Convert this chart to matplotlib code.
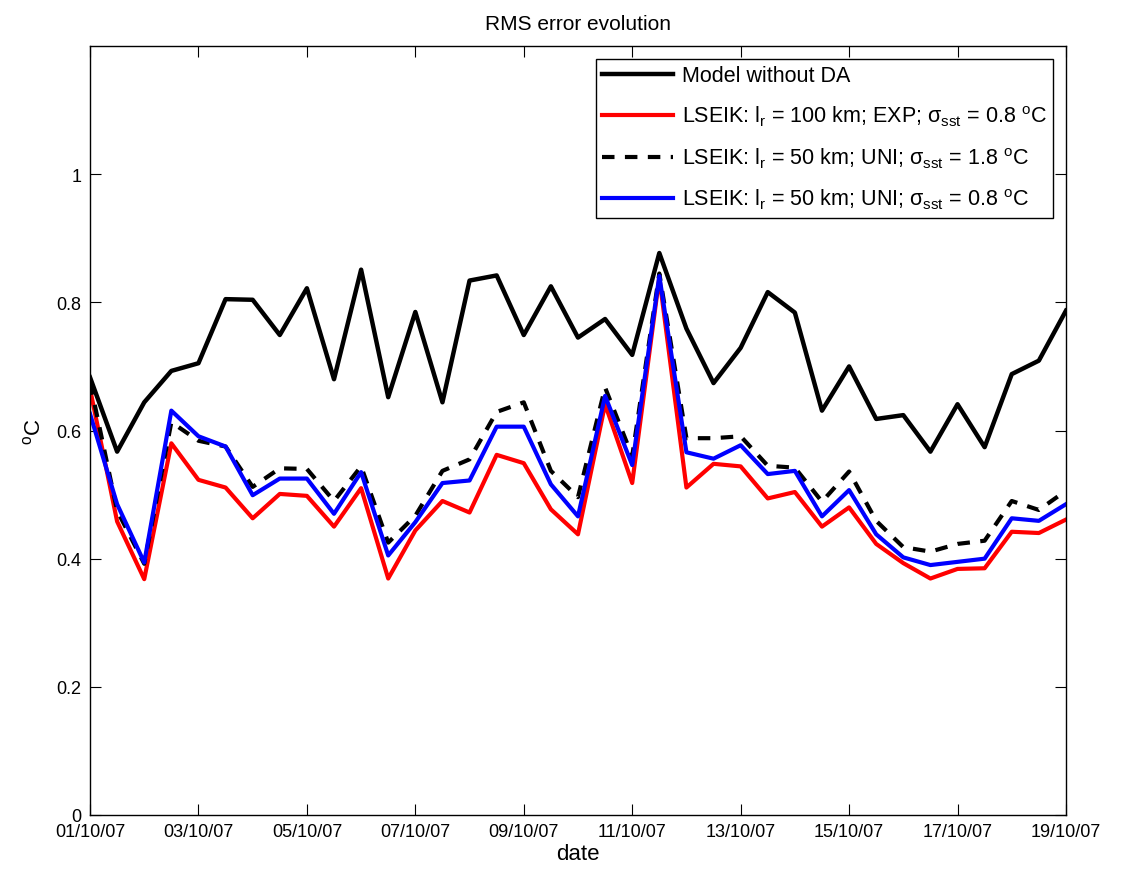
import matplotlib
matplotlib.use('Agg')
import matplotlib.pyplot as plt
import matplotlib.dates as mdates
import numpy as np

plt.rcParams['font.family'] = ['Liberation Sans', 'DejaVu Sans']
plt.rcParams['mathtext.default'] = 'regular'

# one value every 12 h, 01/10/07 00h .. 19/10/07 00h
dates = np.arange(np.datetime64('2007-10-01T00'), np.datetime64('2007-10-19T01'),
                  np.timedelta64(12, 'h')).astype('datetime64[s]').astype(object)

rms_free = [0.683, 0.567, 0.644, 0.693, 0.705, 0.805, 0.804, 0.749, 0.822, 0.680,
            0.851, 0.652, 0.785, 0.644, 0.834, 0.842, 0.749, 0.825, 0.745, 0.774,
            0.718, 0.877, 0.759, 0.674, 0.729, 0.816, 0.784, 0.631, 0.700, 0.618,
            0.624, 0.567, 0.641, 0.574, 0.688, 0.709, 0.787]
rms_exp100 = [0.665, 0.458, 0.368, 0.580, 0.523, 0.511, 0.463, 0.501, 0.498, 0.450,
              0.510, 0.369, 0.444, 0.490, 0.472, 0.562, 0.549, 0.477, 0.438, 0.641,
              0.518, 0.839, 0.511, 0.548, 0.544, 0.494, 0.504, 0.450, 0.480, 0.423,
              0.393, 0.369, 0.384, 0.385, 0.442, 0.440, 0.461]
rms_uni50_18 = [0.675, 0.475, 0.392, 0.613, 0.584, 0.575, 0.512, 0.541, 0.540, 0.490,
                0.544, 0.425, 0.467, 0.537, 0.555, 0.629, 0.644, 0.537, 0.496, 0.667,
                0.560, 0.845, 0.588, 0.588, 0.591, 0.545, 0.542, 0.489, 0.536, 0.459,
                0.418, 0.411, 0.423, 0.428, 0.490, 0.476, 0.506]
rms_uni50_08 = [0.626, 0.485, 0.394, 0.631, 0.591, 0.575, 0.499, 0.525, 0.525, 0.470,
                0.535, 0.405, 0.457, 0.518, 0.522, 0.606, 0.606, 0.516, 0.466, 0.654,
                0.546, 0.841, 0.566, 0.556, 0.577, 0.532, 0.537, 0.466, 0.507, 0.438,
                0.402, 0.390, 0.395, 0.400, 0.463, 0.459, 0.485]

labels = ['Model without DA',
          r'LSEIK: l$_r$ = 100 km; EXP; $\sigma_{sst}$ = 0.8 $^o$C',
          r'LSEIK: l$_r$ = 50 km; UNI; $\sigma_{sst}$ = 1.8 $^o$C',
          r'LSEIK: l$_r$ = 50 km; UNI; $\sigma_{sst}$ = 0.8 $^o$C']

fig = plt.figure(figsize=(11.21, 8.79), dpi=100)
ax = fig.add_axes([0.0803, 0.0717, 0.8706, 0.8748])

ax.plot(dates, rms_free, color='k', lw=3.2, label=labels[0])
ax.plot(dates, rms_exp100, color='#ff0000', lw=3, label=labels[1])
ax.plot(dates, rms_uni50_18, color='k', lw=3, ls=(0, (3, 2.5)), label=labels[2])
ax.plot(dates, rms_uni50_08, color='#0000ff', lw=3, label=labels[3])

ax.set_xlim(dates[0], dates[-1])
ax.set_ylim(0, 1.2)
ax.set_yticks([0, 0.2, 0.4, 0.6, 0.8, 1.0])
ax.set_yticklabels(['0', '0.2', '0.4', '0.6', '0.8', '1'])
ax.xaxis.set_major_locator(mdates.DayLocator(interval=2))
ax.xaxis.set_major_formatter(mdates.DateFormatter('%d/%m/%y'))

ax.tick_params(direction='in', length=8, width=0.8, top=True, right=True,
               labelsize=13, pad=6)
for s in ax.spines.values():
    s.set_linewidth(1.0)

ax.set_title('RMS error evolution', fontsize=15, pad=12)
ax.set_xlabel('date', fontsize=16, labelpad=2)
ax.set_ylabel('$^o$C', fontsize=16, labelpad=8)

leg = ax.legend(loc='upper right', fontsize=15.5, fancybox=False, framealpha=1,
                edgecolor='k', handlelength=3.3, handletextpad=0.4,
                borderaxespad=0.6, labelspacing=0.8, borderpad=0.3)
leg.get_frame().set_linewidth(1.0)

fig.savefig('out.png', dpi=100)
